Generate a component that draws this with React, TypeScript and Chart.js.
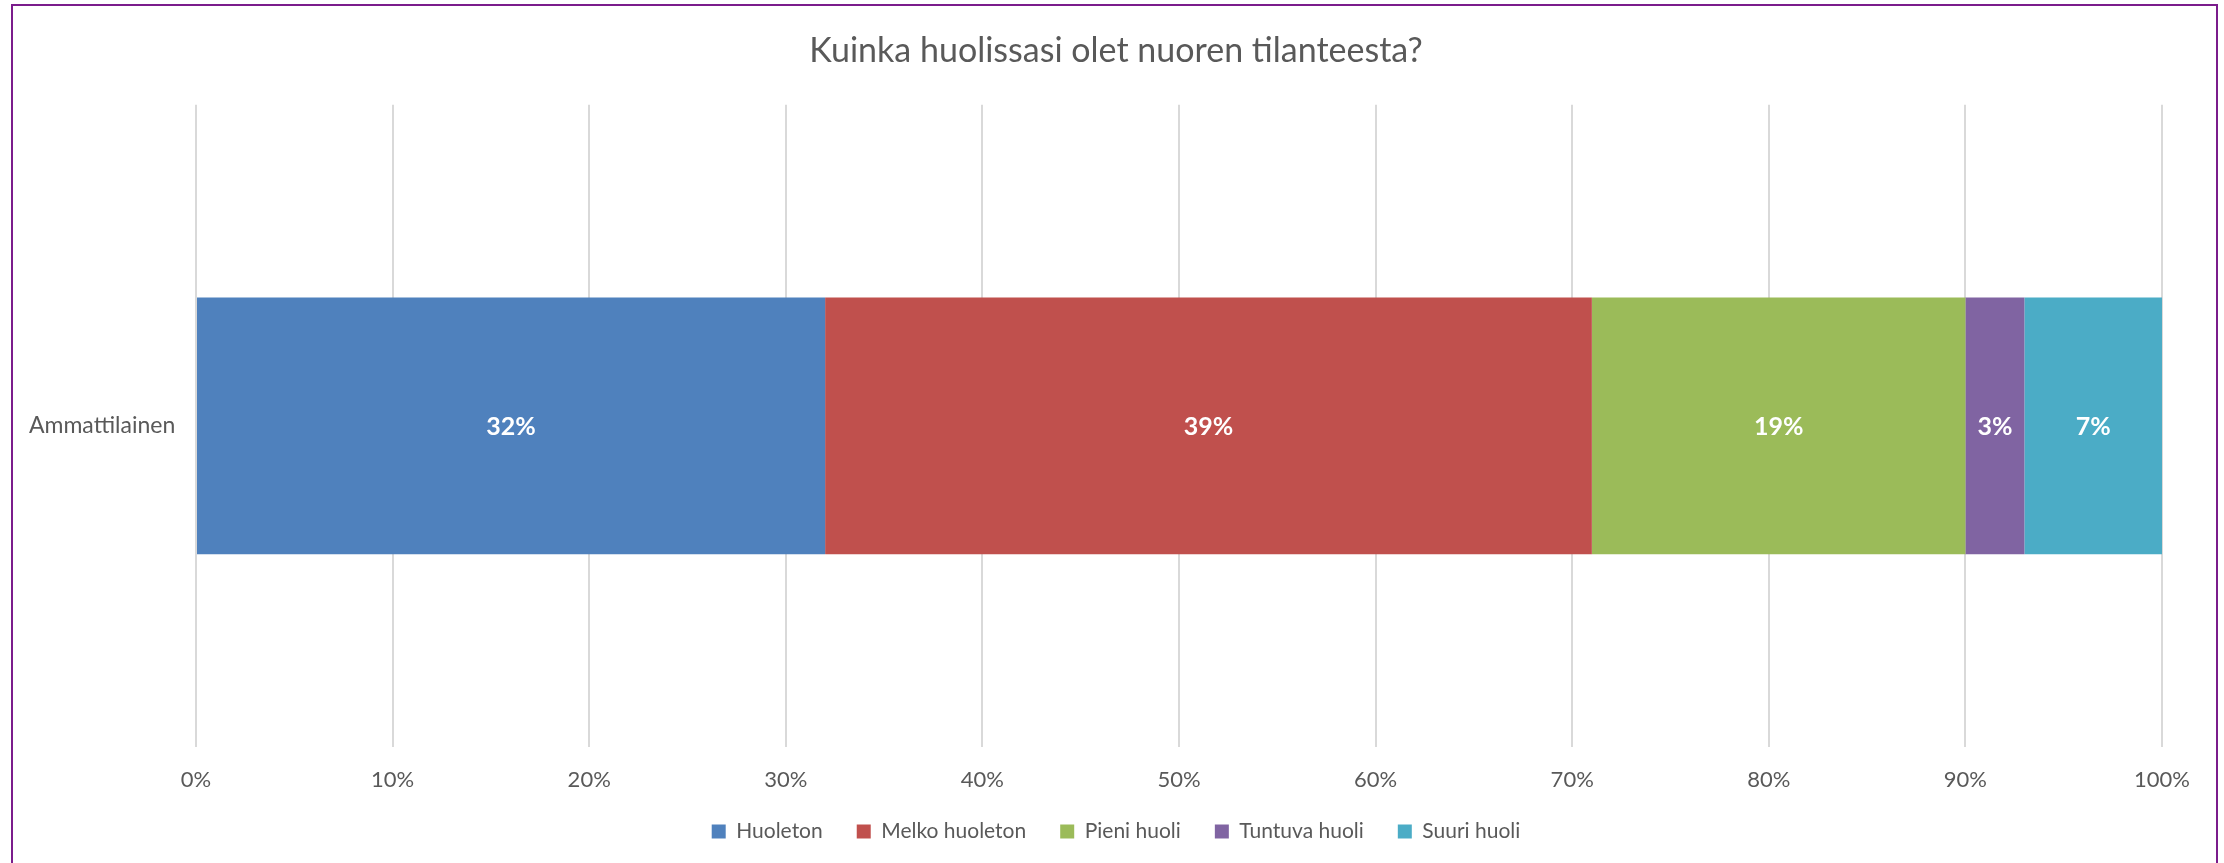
import React, { useEffect, useRef } from "react";
import { Chart, registerables } from "chart.js";

Chart.register(...registerables);

const TITLE = "Kuinka huolissasi olet nuoren tilanteesta?";
const categories = ["Ammattilainen"];
const seriesNames = ["Huoleton", "Melko huoleton", "Pieni huoli", "Tuntuva huoli", "Suuri huoli"];
const seriesColors = ["#4F81BD", "#C0504D", "#9BBB59", "#8064A2", "#4BACC6"];
const huoleton = [32];
const melkoHuoleton = [39];
const pieniHuoli = [19];
const tuntuvaHuoli = [3];
const suuriHuoli = [7];
const seriesValues = [huoleton, melkoHuoleton, pieniHuoli, tuntuvaHuoli, suuriHuoli];
const xTicks = [0, 10, 20, 30, 40, 50, 60, 70, 80, 90, 100];

const GREY = "#595959";
const FONT = "Lato, 'Liberation Sans', sans-serif";

const valueLabels = {
  id: "valueLabels",
  afterDatasetsDraw(chart: any) {
    const ctx = chart.ctx;
    ctx.save();
    ctx.fillStyle = "#FFFFFF";
    ctx.font = `bold 25px ${FONT}`;
    ctx.textAlign = "center";
    ctx.textBaseline = "middle";
    chart.data.datasets.forEach((ds: any, di: number) => {
      const meta = chart.getDatasetMeta(di);
      meta.data.forEach((el: any, i: number) => {
        const v = ds.data[i];
        const cx = (el.x + el.base) / 2;
        ctx.fillText(`${v}%`, cx, el.y + 1);
      });
    });
    ctx.restore();
  },
};

export default function App() {
  const ref = useRef<HTMLCanvasElement>(null);

  useEffect(() => {
    if (!ref.current) return;
    const chart = new Chart(ref.current, {
      type: "bar",
      data: {
        labels: categories,
        datasets: seriesNames.map((name, i) => ({
          label: name,
          data: seriesValues[i],
          backgroundColor: seriesColors[i],
          borderWidth: 0,
          categoryPercentage: 0.8,
          barPercentage: 0.5,
        })),
      },
      options: {
        indexAxis: "y",
        responsive: false,
        animation: false,
        layout: { padding: { top: 0, left: 70, right: 62, bottom: 11 } },
        plugins: {
          tooltip: { enabled: false },
          title: {
            display: true,
            text: TITLE,
            color: GREY,
            font: { family: FONT, size: 34, weight: "normal" },
            padding: { top: 31, bottom: 33 },
          },
          legend: {
            display: true,
            position: "bottom",
            labels: {
              boxWidth: 14,
              boxHeight: 14,
              padding: 34,
              color: GREY,
              font: { family: FONT, size: 21 },
            },
          },
        },
        scales: {
          x: {
            stacked: true,
            min: 0,
            max: 100,
            afterBuildTicks(scale: any) {
              scale.ticks = xTicks.map((v) => ({ value: v }));
            },
            afterFit(scale: any) {
              scale.height = 40;
            },
            ticks: {
              color: GREY,
              padding: 20,
              font: { family: FONT, size: 22 },
              callback: (v: any) => `${v}%`,
            },
            grid: { color: "#D9D9D9", lineWidth: 2, drawTicks: false },
            border: { display: false },
          },
          y: {
            stacked: true,
            afterFit(scale: any) {
              scale.width = 126;
            },
            ticks: {
              color: GREY,
              mirror: true,
              crossAlign: "near",
              padding: -167,
              font: { family: FONT, size: 23 },
            },
            grid: { display: false, drawTicks: false },
            border: { display: false },
          },
        },
      },
      plugins: [valueLabels],
    });
    return () => chart.destroy();
  }, []);

  return (
    <div style={{ position: "fixed", left: 0, top: 0, width: 2224, height: 863, background: "#FFFFFF", overflow: "hidden" }}>
      <canvas ref={ref} width={2224} height={863} style={{ position: "absolute", left: 0, top: 0, width: 2224, height: 863 }} />
      <div
        style={{
          position: "absolute",
          left: 11,
          top: 4,
          width: 2203,
          height: 880,
          borderTop: "2px solid #7B1C8C",
          borderLeft: "2px solid #7B1C8C",
          borderRight: "2px solid #7B1C8C",
          pointerEvents: "none",
        }}
      />
    </div>
  );
}
